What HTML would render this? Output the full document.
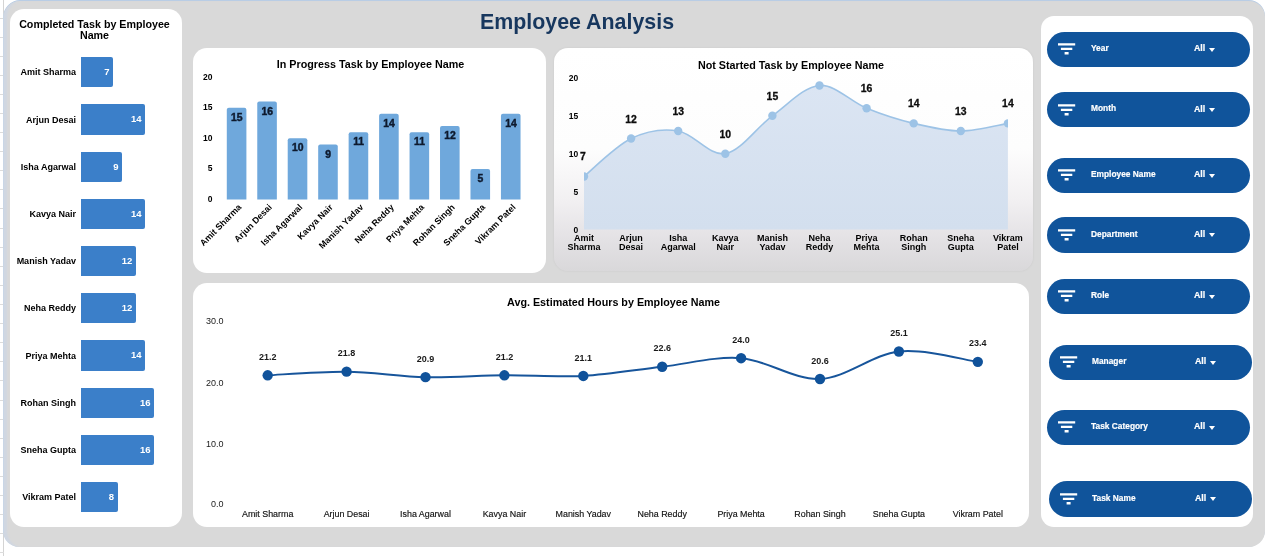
<!DOCTYPE html>
<html lang="en">
<head>
<meta charset="utf-8">
<title>Employee Analysis</title>
<style>
html,body{margin:0;padding:0;background:#fff;}
body{width:1280px;height:556px;position:relative;overflow:hidden;font-family:"Liberation Sans",Arial,sans-serif;color:#000;}
.abs{position:absolute;}
#grid{left:0;top:0;width:8px;height:556px;}
#bg{left:4px;top:1px;width:1261px;height:546px;background:#d9d9d9;border-radius:16px;box-shadow:0 -1px 0 #b9cde5, -1px 0 0 #c9d6e6, inset 4px 0 2px -1px #d0d7e2;}
.panel{background:#fff;border-radius:14px;}
#p-left{left:10px;top:9px;width:172px;height:518px;}
#p-prog{left:193px;top:48px;width:353px;height:224.5px;}
#p-not{left:554px;top:48px;width:479px;height:223px;background:linear-gradient(#ffffff 0%,#fdfdfd 45%,#f2f0f2 68%,#e4e2e5 85%,#d9d8da 100%);box-shadow:0 0 2px rgba(130,130,130,.18);}
#p-avg{left:193px;top:283px;width:836px;height:244px;}
#p-filt{left:1041px;top:16px;width:212px;height:511px;border-radius:13px;}
h1{margin:0;left:380px;top:6.8px;width:394px;text-align:center;font-size:21.4px;line-height:30px;font-weight:bold;color:#17375e;white-space:nowrap;}
.ttl{font-weight:bold;font-size:10.5px;line-height:10.5px;text-align:center;white-space:nowrap;}
.lname{left:0;width:66px;text-align:right;font-size:9px;line-height:12px;font-weight:bold;white-space:nowrap;}
.hbar{left:71px;height:30.3px;background:#3b7fc9;border-radius:0 2px 2px 0;color:#fff;font-size:9.5px;font-weight:bold;line-height:30.3px;text-align:right;box-sizing:border-box;padding-right:3.5px;}
.fbtn{width:203px;height:35.3px;border-radius:18px;background:#10549b;color:#fff;font-size:9.5px;font-weight:bold;line-height:35px;letter-spacing:0;white-space:nowrap;-webkit-text-stroke:0.2px #fff;}
.fbtn svg{position:absolute;left:11px;top:11.5px;}
.fbtn .fl{position:absolute;left:43.5px;top:-1.6px;display:inline-block;transform-origin:0 50%;transform:scaleX(0.88);}
.fbtn .fa{position:absolute;left:146.5px;top:-1.5px;font-size:9.8px;display:inline-block;transform-origin:0 50%;transform:scaleX(0.9);}
.fbtn i{position:absolute;left:161.5px;top:16px;width:0;height:0;border-left:3.6px solid transparent;border-right:3.6px solid transparent;border-top:4px solid #fff;}
svg text{font-family:"Liberation Sans",Arial,sans-serif;}
</style>
</head>
<body>

<svg id="grid" class="abs" width="8" height="556"><path d="M3.5 0V556" stroke="#d4d4d4" stroke-width="1" fill="none"/>
<path d="M0 18.5H4 M0 37.5H4 M0 56.5H4 M0 75.5H4 M0 94.5H4 M0 113.5H4 M0 132.5H4 M0 151.5H4 M0 170.5H4 M0 189.5H4 M0 208.5H4 M0 228.5H4 M0 247.5H4 M0 266.5H4 M0 285.5H4 M0 304.5H4 M0 323.5H4 M0 342.5H4 M0 361.5H4 M0 380.5H4 M0 400.5H4 M0 419.5H4 M0 438.5H4 M0 457.5H4 M0 476.5H4 M0 495.5H4 M0 514.5H4 M0 533.5H4 M0 552.5H4" stroke="#dcdcdc" stroke-width="1" fill="none"/></svg>
<div id="bg" class="abs"></div>
<h1 class="abs">Employee Analysis</h1>
<div id="p-left" class="abs panel">
<div class="abs ttl" style="left:0;top:10.1px;width:169px;font-size:10.7px;">Completed Task by Employee<br>Name</div>
<div class="abs lname" style="top:57.4px;">Amit Sharma</div>
<div class="abs hbar" style="top:48.2px;width:31.99px;">7</div>
<div class="abs lname" style="top:104.6px;">Arjun Desai</div>
<div class="abs hbar" style="top:95.4px;width:63.98px;">14</div>
<div class="abs lname" style="top:151.8px;">Isha Agarwal</div>
<div class="abs hbar" style="top:142.6px;width:41.13px;">9</div>
<div class="abs lname" style="top:199px;">Kavya Nair</div>
<div class="abs hbar" style="top:189.8px;width:63.98px;">14</div>
<div class="abs lname" style="top:246.2px;">Manish Yadav</div>
<div class="abs hbar" style="top:237px;width:54.84px;">12</div>
<div class="abs lname" style="top:293.4px;">Neha Reddy</div>
<div class="abs hbar" style="top:284.2px;width:54.84px;">12</div>
<div class="abs lname" style="top:340.6px;">Priya Mehta</div>
<div class="abs hbar" style="top:331.4px;width:63.98px;">14</div>
<div class="abs lname" style="top:387.8px;">Rohan Singh</div>
<div class="abs hbar" style="top:378.6px;width:73.12px;">16</div>
<div class="abs lname" style="top:435px;">Sneha Gupta</div>
<div class="abs hbar" style="top:425.8px;width:73.12px;">16</div>
<div class="abs lname" style="top:482.2px;">Vikram Patel</div>
<div class="abs hbar" style="top:473px;width:36.56px;">8</div>
</div>
<div id="p-prog" class="abs panel">
<svg class="abs" style="left:0;top:0" width="353" height="224" viewBox="193 48 353 224">
<text x="370.5" y="67.6" text-anchor="middle" font-size="10.75" font-weight="bold">In Progress Task by Employee Name</text>
<text x="212.5" y="202" text-anchor="end" font-size="8.5" font-weight="bold">0</text>
<text x="212.5" y="171.38" text-anchor="end" font-size="8.5" font-weight="bold">5</text>
<text x="212.5" y="140.75" text-anchor="end" font-size="8.5" font-weight="bold">10</text>
<text x="212.5" y="110.12" text-anchor="end" font-size="8.5" font-weight="bold">15</text>
<text x="212.5" y="79.5" text-anchor="end" font-size="8.5" font-weight="bold">20</text>
<path d="M226.8 199.6V109.72Q226.8 107.72 228.8 107.72H244.4Q246.4 107.72 246.4 109.72V199.6Z" fill="#6fa8dc"/>
<text x="236.8" y="120.82" text-anchor="middle" font-size="10.4" font-weight="bold" fill="#0e1a2e" stroke="#0e1a2e" stroke-width="0.45">15</text>
<text transform="translate(242.1 207.8) rotate(-45)" text-anchor="end" font-size="8.9" font-weight="bold">Amit Sharma</text>
<path d="M257.26 199.6V103.6Q257.26 101.6 259.26 101.6H274.86Q276.86 101.6 276.86 103.6V199.6Z" fill="#6fa8dc"/>
<text x="267.26" y="114.7" text-anchor="middle" font-size="10.4" font-weight="bold" fill="#0e1a2e" stroke="#0e1a2e" stroke-width="0.45">16</text>
<text transform="translate(272.56 207.8) rotate(-45)" text-anchor="end" font-size="8.9" font-weight="bold">Arjun Desai</text>
<path d="M287.72 199.6V140.35Q287.72 138.35 289.72 138.35H305.32Q307.32 138.35 307.32 140.35V199.6Z" fill="#6fa8dc"/>
<text x="297.72" y="151.45" text-anchor="middle" font-size="10.4" font-weight="bold" fill="#0e1a2e" stroke="#0e1a2e" stroke-width="0.45">10</text>
<text transform="translate(303.02 207.8) rotate(-45)" text-anchor="end" font-size="8.9" font-weight="bold">Isha Agarwal</text>
<path d="M318.18 199.6V146.47Q318.18 144.47 320.18 144.47H335.78Q337.78 144.47 337.78 146.47V199.6Z" fill="#6fa8dc"/>
<text x="328.18" y="157.57" text-anchor="middle" font-size="10.4" font-weight="bold" fill="#0e1a2e" stroke="#0e1a2e" stroke-width="0.45">9</text>
<text transform="translate(333.48 207.8) rotate(-45)" text-anchor="end" font-size="8.9" font-weight="bold">Kavya Nair</text>
<path d="M348.64 199.6V134.22Q348.64 132.22 350.64 132.22H366.24Q368.24 132.22 368.24 134.22V199.6Z" fill="#6fa8dc"/>
<text x="358.64" y="145.32" text-anchor="middle" font-size="10.4" font-weight="bold" fill="#0e1a2e" stroke="#0e1a2e" stroke-width="0.45">11</text>
<text transform="translate(363.94 207.8) rotate(-45)" text-anchor="end" font-size="8.9" font-weight="bold">Manish Yadav</text>
<path d="M379.1 199.6V115.85Q379.1 113.85 381.1 113.85H396.7Q398.7 113.85 398.7 115.85V199.6Z" fill="#6fa8dc"/>
<text x="389.1" y="126.95" text-anchor="middle" font-size="10.4" font-weight="bold" fill="#0e1a2e" stroke="#0e1a2e" stroke-width="0.45">14</text>
<text transform="translate(394.4 207.8) rotate(-45)" text-anchor="end" font-size="8.9" font-weight="bold">Neha Reddy</text>
<path d="M409.56 199.6V134.22Q409.56 132.22 411.56 132.22H427.16Q429.16 132.22 429.16 134.22V199.6Z" fill="#6fa8dc"/>
<text x="419.56" y="145.32" text-anchor="middle" font-size="10.4" font-weight="bold" fill="#0e1a2e" stroke="#0e1a2e" stroke-width="0.45">11</text>
<text transform="translate(424.86 207.8) rotate(-45)" text-anchor="end" font-size="8.9" font-weight="bold">Priya Mehta</text>
<path d="M440.02 199.6V128.1Q440.02 126.1 442.02 126.1H457.62Q459.62 126.1 459.62 128.1V199.6Z" fill="#6fa8dc"/>
<text x="450.02" y="139.2" text-anchor="middle" font-size="10.4" font-weight="bold" fill="#0e1a2e" stroke="#0e1a2e" stroke-width="0.45">12</text>
<text transform="translate(455.32 207.8) rotate(-45)" text-anchor="end" font-size="8.9" font-weight="bold">Rohan Singh</text>
<path d="M470.48 199.6V170.97Q470.48 168.97 472.48 168.97H488.08Q490.08 168.97 490.08 170.97V199.6Z" fill="#6fa8dc"/>
<text x="480.48" y="182.07" text-anchor="middle" font-size="10.4" font-weight="bold" fill="#0e1a2e" stroke="#0e1a2e" stroke-width="0.45">5</text>
<text transform="translate(485.78 207.8) rotate(-45)" text-anchor="end" font-size="8.9" font-weight="bold">Sneha Gupta</text>
<path d="M500.94 199.6V115.85Q500.94 113.85 502.94 113.85H518.54Q520.54 113.85 520.54 115.85V199.6Z" fill="#6fa8dc"/>
<text x="510.94" y="126.95" text-anchor="middle" font-size="10.4" font-weight="bold" fill="#0e1a2e" stroke="#0e1a2e" stroke-width="0.45">14</text>
<text transform="translate(516.24 207.8) rotate(-45)" text-anchor="end" font-size="8.9" font-weight="bold">Vikram Patel</text>
</svg></div>
<div id="p-not" class="abs panel">
<svg class="abs" style="left:0;top:0" width="479" height="223" viewBox="554 48 479 223">
<defs><linearGradient id="ga" x1="0" y1="0" x2="0" y2="1"><stop offset="0" stop-color="#dbe5f3"/><stop offset="1" stop-color="#d3dfee"/></linearGradient><clipPath id="cp"><rect x="584" y="60" width="424" height="172"/></clipPath></defs>
<text x="791" y="68.6" text-anchor="middle" font-size="10.75" font-weight="bold">Not Started Task by Employee Name</text>
<text x="578.3" y="233" text-anchor="end" font-size="8.5" font-weight="bold">0</text>
<text x="578.3" y="195.1" text-anchor="end" font-size="8.5" font-weight="bold">5</text>
<text x="578.3" y="157.2" text-anchor="end" font-size="8.5" font-weight="bold">10</text>
<text x="578.3" y="119.3" text-anchor="end" font-size="8.5" font-weight="bold">15</text>
<text x="578.3" y="81.4" text-anchor="end" font-size="8.5" font-weight="bold">20</text>
<path d="M584 176.44 C591.85 170.12 615.4 146.12 631.1 138.54 C646.8 130.96 662.5 128.43 678.2 130.96 C693.9 133.49 709.6 156.23 725.3 153.7 C741 151.17 756.7 127.17 772.4 115.8 C788.1 104.43 803.8 86.74 819.5 85.48 C835.2 84.22 850.9 101.9 866.6 108.22 C882.3 114.54 898 119.59 913.7 123.38 C929.4 127.17 945.1 130.96 960.8 130.96 C976.5 130.96 1000.05 124.64 1007.9 123.38 L1007.9 229.5 L584 229.5 Z" fill="url(#ga)"/>
<g clip-path="url(#cp)"><path d="M584 176.44 C591.85 170.12 615.4 146.12 631.1 138.54 C646.8 130.96 662.5 128.43 678.2 130.96 C693.9 133.49 709.6 156.23 725.3 153.7 C741 151.17 756.7 127.17 772.4 115.8 C788.1 104.43 803.8 86.74 819.5 85.48 C835.2 84.22 850.9 101.9 866.6 108.22 C882.3 114.54 898 119.59 913.7 123.38 C929.4 127.17 945.1 130.96 960.8 130.96 C976.5 130.96 1000.05 124.64 1007.9 123.38" fill="none" stroke="#9dc3e6" stroke-width="1.6"/>
<circle cx="584" cy="176.44" r="4.2" fill="#9dc3e6"/>
<circle cx="631.1" cy="138.54" r="4.2" fill="#9dc3e6"/>
<circle cx="678.2" cy="130.96" r="4.2" fill="#9dc3e6"/>
<circle cx="725.3" cy="153.7" r="4.2" fill="#9dc3e6"/>
<circle cx="772.4" cy="115.8" r="4.2" fill="#9dc3e6"/>
<circle cx="819.5" cy="85.48" r="4.2" fill="#9dc3e6"/>
<circle cx="866.6" cy="108.22" r="4.2" fill="#9dc3e6"/>
<circle cx="913.7" cy="123.38" r="4.2" fill="#9dc3e6"/>
<circle cx="960.8" cy="130.96" r="4.2" fill="#9dc3e6"/>
<circle cx="1007.9" cy="123.38" r="4.2" fill="#9dc3e6"/>
</g>
<text x="583" y="160.44" text-anchor="middle" font-size="10.4" font-weight="bold" fill="#0d0d0d" stroke="#0d0d0d" stroke-width="0.3">7</text>
<text text-anchor="middle" font-size="9" font-weight="bold"><tspan x="584" y="241.3">Amit</tspan><tspan x="584" y="250.2">Sharma</tspan></text>
<text x="631.1" y="122.54" text-anchor="middle" font-size="10.4" font-weight="bold" fill="#0d0d0d" stroke="#0d0d0d" stroke-width="0.3">12</text>
<text text-anchor="middle" font-size="9" font-weight="bold"><tspan x="631.1" y="241.3">Arjun</tspan><tspan x="631.1" y="250.2">Desai</tspan></text>
<text x="678.2" y="114.96" text-anchor="middle" font-size="10.4" font-weight="bold" fill="#0d0d0d" stroke="#0d0d0d" stroke-width="0.3">13</text>
<text text-anchor="middle" font-size="9" font-weight="bold"><tspan x="678.2" y="241.3">Isha</tspan><tspan x="678.2" y="250.2">Agarwal</tspan></text>
<text x="725.3" y="137.7" text-anchor="middle" font-size="10.4" font-weight="bold" fill="#0d0d0d" stroke="#0d0d0d" stroke-width="0.3">10</text>
<text text-anchor="middle" font-size="9" font-weight="bold"><tspan x="725.3" y="241.3">Kavya</tspan><tspan x="725.3" y="250.2">Nair</tspan></text>
<text x="772.4" y="99.8" text-anchor="middle" font-size="10.4" font-weight="bold" fill="#0d0d0d" stroke="#0d0d0d" stroke-width="0.3">15</text>
<text text-anchor="middle" font-size="9" font-weight="bold"><tspan x="772.4" y="241.3">Manish</tspan><tspan x="772.4" y="250.2">Yadav</tspan></text>
<text text-anchor="middle" font-size="9" font-weight="bold"><tspan x="819.5" y="241.3">Neha</tspan><tspan x="819.5" y="250.2">Reddy</tspan></text>
<text x="866.6" y="92.22" text-anchor="middle" font-size="10.4" font-weight="bold" fill="#0d0d0d" stroke="#0d0d0d" stroke-width="0.3">16</text>
<text text-anchor="middle" font-size="9" font-weight="bold"><tspan x="866.6" y="241.3">Priya</tspan><tspan x="866.6" y="250.2">Mehta</tspan></text>
<text x="913.7" y="107.38" text-anchor="middle" font-size="10.4" font-weight="bold" fill="#0d0d0d" stroke="#0d0d0d" stroke-width="0.3">14</text>
<text text-anchor="middle" font-size="9" font-weight="bold"><tspan x="913.7" y="241.3">Rohan</tspan><tspan x="913.7" y="250.2">Singh</tspan></text>
<text x="960.8" y="114.96" text-anchor="middle" font-size="10.4" font-weight="bold" fill="#0d0d0d" stroke="#0d0d0d" stroke-width="0.3">13</text>
<text text-anchor="middle" font-size="9" font-weight="bold"><tspan x="960.8" y="241.3">Sneha</tspan><tspan x="960.8" y="250.2">Gupta</tspan></text>
<text x="1007.9" y="107.38" text-anchor="middle" font-size="10.4" font-weight="bold" fill="#0d0d0d" stroke="#0d0d0d" stroke-width="0.3">14</text>
<text text-anchor="middle" font-size="9" font-weight="bold"><tspan x="1007.9" y="241.3">Vikram</tspan><tspan x="1007.9" y="250.2">Patel</tspan></text>
</svg></div>
<div id="p-avg" class="abs panel">
<svg class="abs" style="left:0;top:0" width="836" height="244" viewBox="193 283 836 244">
<text x="613.5" y="306" text-anchor="middle" font-size="10.75" font-weight="bold">Avg. Estimated Hours by Employee Name</text>
<text x="223.5" y="507.3" text-anchor="end" font-size="9" fill="#1a1a1a">0.0</text>
<text x="223.5" y="447" text-anchor="end" font-size="9" fill="#1a1a1a">10.0</text>
<text x="223.5" y="385.9" text-anchor="end" font-size="9" fill="#1a1a1a">20.0</text>
<text x="223.5" y="324" text-anchor="end" font-size="9" fill="#1a1a1a">30.0</text>
<path d="M267.7 375.32 C280.85 374.71 320.3 371.34 346.6 371.65 C372.9 371.96 399.2 376.54 425.5 377.15 C451.8 377.77 478.1 375.52 504.4 375.32 C530.7 375.12 557 377.36 583.3 375.93 C609.6 374.5 635.9 369.71 662.2 366.76 C688.5 363.8 714.8 356.15 741.1 358.19 C767.4 360.23 793.7 380.11 820 378.99 C846.3 377.87 872.6 354.32 898.9 351.46 C925.2 348.61 964.65 360.13 977.8 361.86" fill="none" stroke="#17559b" stroke-width="2"/>
<circle cx="267.7" cy="375.32" r="5.2" fill="#10529a"/>
<text x="267.7" y="359.92" text-anchor="middle" font-size="9" font-weight="bold" fill="#1a1a1a">21.2</text>
<text x="267.7" y="517.4" text-anchor="middle" font-size="8.9" fill="#111" stroke="#111" stroke-width="0.15">Amit Sharma</text>
<circle cx="346.6" cy="371.65" r="5.2" fill="#10529a"/>
<text x="346.6" y="356.25" text-anchor="middle" font-size="9" font-weight="bold" fill="#1a1a1a">21.8</text>
<text x="346.6" y="517.4" text-anchor="middle" font-size="8.9" fill="#111" stroke="#111" stroke-width="0.15">Arjun Desai</text>
<circle cx="425.5" cy="377.15" r="5.2" fill="#10529a"/>
<text x="425.5" y="361.75" text-anchor="middle" font-size="9" font-weight="bold" fill="#1a1a1a">20.9</text>
<text x="425.5" y="517.4" text-anchor="middle" font-size="8.9" fill="#111" stroke="#111" stroke-width="0.15">Isha Agarwal</text>
<circle cx="504.4" cy="375.32" r="5.2" fill="#10529a"/>
<text x="504.4" y="359.92" text-anchor="middle" font-size="9" font-weight="bold" fill="#1a1a1a">21.2</text>
<text x="504.4" y="517.4" text-anchor="middle" font-size="8.9" fill="#111" stroke="#111" stroke-width="0.15">Kavya Nair</text>
<circle cx="583.3" cy="375.93" r="5.2" fill="#10529a"/>
<text x="583.3" y="360.53" text-anchor="middle" font-size="9" font-weight="bold" fill="#1a1a1a">21.1</text>
<text x="583.3" y="517.4" text-anchor="middle" font-size="8.9" fill="#111" stroke="#111" stroke-width="0.15">Manish Yadav</text>
<circle cx="662.2" cy="366.76" r="5.2" fill="#10529a"/>
<text x="662.2" y="351.36" text-anchor="middle" font-size="9" font-weight="bold" fill="#1a1a1a">22.6</text>
<text x="662.2" y="517.4" text-anchor="middle" font-size="8.9" fill="#111" stroke="#111" stroke-width="0.15">Neha Reddy</text>
<circle cx="741.1" cy="358.19" r="5.2" fill="#10529a"/>
<text x="741.1" y="342.79" text-anchor="middle" font-size="9" font-weight="bold" fill="#1a1a1a">24.0</text>
<text x="741.1" y="517.4" text-anchor="middle" font-size="8.9" fill="#111" stroke="#111" stroke-width="0.15">Priya Mehta</text>
<circle cx="820" cy="378.99" r="5.2" fill="#10529a"/>
<text x="820" y="363.59" text-anchor="middle" font-size="9" font-weight="bold" fill="#1a1a1a">20.6</text>
<text x="820" y="517.4" text-anchor="middle" font-size="8.9" fill="#111" stroke="#111" stroke-width="0.15">Rohan Singh</text>
<circle cx="898.9" cy="351.46" r="5.2" fill="#10529a"/>
<text x="898.9" y="336.06" text-anchor="middle" font-size="9" font-weight="bold" fill="#1a1a1a">25.1</text>
<text x="898.9" y="517.4" text-anchor="middle" font-size="8.9" fill="#111" stroke="#111" stroke-width="0.15">Sneha Gupta</text>
<circle cx="977.8" cy="361.86" r="5.2" fill="#10529a"/>
<text x="977.8" y="346.46" text-anchor="middle" font-size="9" font-weight="bold" fill="#1a1a1a">23.4</text>
<text x="977.8" y="517.4" text-anchor="middle" font-size="8.9" fill="#111" stroke="#111" stroke-width="0.15">Vikram Patel</text>
</svg></div>
<div id="p-filt" class="abs panel"></div>
<div class="abs fbtn" style="left:1047px;top:31.5px;"><svg width="18" height="12" viewBox="0 0 18 12"><path d="M0 0.3H17.2V2.5H0ZM2.9 4.8H14.3V6.9H2.9ZM6.6 8.9H10.6V11.4H6.6Z" fill="#fff"/></svg><span class="fl">Year</span><span class="fa">All</span><i></i></div>
<div class="abs fbtn" style="left:1047px;top:92px;"><svg width="18" height="12" viewBox="0 0 18 12"><path d="M0 0.3H17.2V2.5H0ZM2.9 4.8H14.3V6.9H2.9ZM6.6 8.9H10.6V11.4H6.6Z" fill="#fff"/></svg><span class="fl">Month</span><span class="fa">All</span><i></i></div>
<div class="abs fbtn" style="left:1047px;top:157.5px;"><svg width="18" height="12" viewBox="0 0 18 12"><path d="M0 0.3H17.2V2.5H0ZM2.9 4.8H14.3V6.9H2.9ZM6.6 8.9H10.6V11.4H6.6Z" fill="#fff"/></svg><span class="fl">Employee Name</span><span class="fa">All</span><i></i></div>
<div class="abs fbtn" style="left:1047px;top:217.3px;"><svg width="18" height="12" viewBox="0 0 18 12"><path d="M0 0.3H17.2V2.5H0ZM2.9 4.8H14.3V6.9H2.9ZM6.6 8.9H10.6V11.4H6.6Z" fill="#fff"/></svg><span class="fl">Department</span><span class="fa">All</span><i></i></div>
<div class="abs fbtn" style="left:1047px;top:278.8px;"><svg width="18" height="12" viewBox="0 0 18 12"><path d="M0 0.3H17.2V2.5H0ZM2.9 4.8H14.3V6.9H2.9ZM6.6 8.9H10.6V11.4H6.6Z" fill="#fff"/></svg><span class="fl">Role</span><span class="fa">All</span><i></i></div>
<div class="abs fbtn" style="left:1048.5px;top:344.8px;"><svg width="18" height="12" viewBox="0 0 18 12"><path d="M0 0.3H17.2V2.5H0ZM2.9 4.8H14.3V6.9H2.9ZM6.6 8.9H10.6V11.4H6.6Z" fill="#fff"/></svg><span class="fl">Manager</span><span class="fa">All</span><i></i></div>
<div class="abs fbtn" style="left:1047px;top:409.6px;"><svg width="18" height="12" viewBox="0 0 18 12"><path d="M0 0.3H17.2V2.5H0ZM2.9 4.8H14.3V6.9H2.9ZM6.6 8.9H10.6V11.4H6.6Z" fill="#fff"/></svg><span class="fl">Task Category</span><span class="fa">All</span><i></i></div>
<div class="abs fbtn" style="left:1048.5px;top:481.3px;"><svg width="18" height="12" viewBox="0 0 18 12"><path d="M0 0.3H17.2V2.5H0ZM2.9 4.8H14.3V6.9H2.9ZM6.6 8.9H10.6V11.4H6.6Z" fill="#fff"/></svg><span class="fl">Task Name</span><span class="fa">All</span><i></i></div>
</body>
</html>
